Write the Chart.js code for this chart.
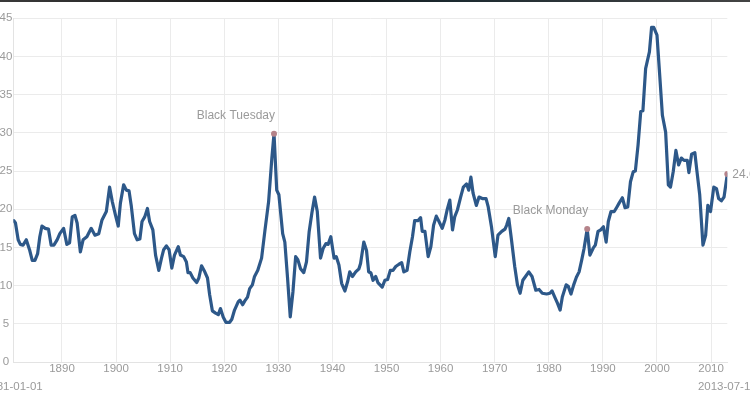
<!DOCTYPE html>
<html>
<head>
<meta charset="utf-8">
<title>Shiller P/E</title>
<script src="https://cdn.jsdelivr.net/npm/chart.js@4/dist/chart.umd.min.js"></script>
<style>
  html, body { margin: 0; padding: 0; background: #fff; overflow: hidden; }
  #wrap { position: relative; width: 750px; height: 394px; overflow: hidden; }
  #topbar { position: absolute; left: 0; top: 0; width: 750px; height: 2px;
            background: linear-gradient(90deg, #3a3a3a, #111 40%, #1c2a30 60%, #444); z-index: 2; }
  #chart { position: absolute; left: -10px; top: 0; }
</style>
</head>
<body>
<div id="wrap">
  <div id="topbar"></div>
  <canvas id="chart" width="760" height="394"></canvas>
</div>
<script>
// valeurs (ratio cours / bénéfices lissés)
const years = [
  1881.1, 1881.4, 1881.9, 1882.3, 1882.8, 1883.4, 1884.0, 1884.5, 1885.0, 1885.5,
  1885.9, 1886.3, 1886.9, 1887.5, 1888.0, 1888.5, 1889.1, 1889.6, 1890.3, 1890.9,
  1891.4, 1891.9, 1892.4, 1892.8, 1893.4, 1893.9, 1894.6, 1895.4, 1896.1, 1896.8,
  1897.4, 1898.2, 1898.8, 1899.3, 1899.9, 1900.4, 1900.8, 1901.4, 1901.9, 1902.4,
  1902.8, 1903.4, 1903.9, 1904.4, 1904.8, 1905.3, 1905.8, 1906.2, 1906.8, 1907.3,
  1907.9, 1908.4, 1908.8, 1909.3, 1909.8, 1910.3, 1910.8, 1911.5, 1911.9, 1912.5,
  1913.0, 1913.3, 1913.7, 1914.2, 1914.9, 1915.3, 1915.8, 1916.4, 1916.9, 1917.3,
  1917.8, 1918.4, 1918.9, 1919.3, 1919.8, 1920.3, 1921.0, 1921.4, 1921.9, 1922.6,
  1922.9, 1923.4, 1923.8, 1924.3, 1924.7, 1925.2, 1925.6, 1926.2, 1926.9, 1927.5,
  1928.2, 1928.8, 1929.2, 1929.7, 1930.1, 1930.8, 1931.2, 1931.7, 1932.2, 1932.7,
  1933.2, 1933.6, 1934.1, 1934.7, 1935.2, 1935.7, 1936.2, 1936.7, 1937.2, 1937.8,
  1938.3, 1938.8, 1939.2, 1939.7, 1940.3, 1940.7, 1941.2, 1941.7, 1942.3, 1942.8,
  1943.2, 1943.7, 1944.3, 1944.9, 1945.2, 1945.8, 1946.3, 1946.7, 1947.1, 1947.5,
  1948.0, 1948.4, 1949.2, 1949.7, 1950.2, 1950.7, 1951.2, 1951.7, 1952.3, 1952.8,
  1953.2, 1953.8, 1954.3, 1954.8, 1955.2, 1955.8, 1956.3, 1956.6, 1957.1, 1957.7,
  1958.2, 1958.7, 1959.2, 1959.7, 1960.3, 1960.8, 1961.2, 1961.7, 1962.2, 1962.6,
  1963.1, 1963.7, 1964.2, 1964.8, 1965.2, 1965.6, 1966.0, 1966.6, 1967.1, 1967.7,
  1968.4, 1968.8, 1969.4, 1970.1, 1970.6, 1971.3, 1971.9, 1972.2, 1972.6, 1973.1,
  1973.7, 1974.2, 1974.7, 1975.2, 1975.7, 1976.3, 1976.9, 1977.6, 1978.2, 1978.8,
  1979.6, 1980.2, 1980.6, 1981.1, 1981.6, 1982.1, 1982.5, 1983.2, 1983.6, 1984.1,
  1984.6, 1985.1, 1985.6, 1986.1, 1986.5, 1987.1, 1987.6, 1988.2, 1988.6, 1989.1,
  1989.6, 1990.1, 1990.6, 1991.0, 1991.5, 1992.1, 1992.6, 1993.0, 1993.6, 1994.1,
  1994.6, 1995.1, 1995.6, 1996.0, 1996.5, 1997.0, 1997.4, 1997.9, 1998.6, 1999.0,
  1999.4, 2000.0, 2000.5, 2001.0, 2001.6, 2002.1, 2002.5, 2003.0, 2003.5, 2004.0,
  2004.5, 2005.0, 2005.6, 2005.9, 2006.4, 2007.0, 2007.4, 2007.9, 2008.5, 2009.0,
  2009.4, 2009.9, 2010.5, 2011.0, 2011.4, 2011.9, 2012.4, 2013.0
];
const cape = [
  18.5, 18.2, 16.0, 15.4, 15.3, 16.0, 14.7, 13.3, 13.3, 14.2,
  16.4, 17.8, 17.5, 17.4, 15.3, 15.3, 16.0, 16.8, 17.5, 15.4,
  15.6, 19.0, 19.2, 18.2, 14.4, 16.0, 16.4, 17.5, 16.6, 16.8,
  18.6, 19.7, 22.9, 21.0, 19.2, 17.8, 20.8, 23.2, 22.5, 22.4,
  20.5, 16.8, 16.0, 16.1, 18.4, 19.0, 20.1, 18.4, 17.3, 14.0,
  12.0, 13.6, 14.7, 15.2, 14.7, 12.3, 14.0, 15.1, 14.0, 13.8,
  13.1, 11.7, 11.7, 11.0, 10.4, 11.0, 12.6, 11.8, 11.0, 8.8,
  6.7, 6.4, 6.2, 7.0, 5.9, 5.2, 5.2, 5.6, 6.8, 7.9,
  8.1, 7.5, 8.0, 8.5, 9.6, 10.1, 11.2, 12.0, 13.6, 17.1,
  21.0, 26.7, 29.9, 22.5, 21.9, 16.8, 15.7, 11.0, 5.9, 9.2,
  13.8, 13.4, 12.2, 11.7, 13.1, 17.1, 19.5, 21.6, 19.7, 13.6,
  14.9, 15.5, 15.4, 16.4, 13.6, 13.8, 12.7, 10.3, 9.3, 10.5,
  11.8, 11.2, 11.8, 12.2, 12.9, 15.7, 14.6, 11.8, 11.7, 10.7,
  11.2, 10.4, 9.8, 10.7, 10.8, 12.0, 12.0, 12.5, 12.8, 13.0,
  11.8, 12.0, 14.4, 16.4, 18.5, 18.5, 18.9, 17.1, 17.1, 13.8,
  15.1, 17.9, 19.1, 18.4, 17.5, 18.6, 19.9, 21.2, 17.3, 19.0,
  19.9, 21.6, 22.9, 23.3, 22.5, 24.2, 22.1, 20.5, 21.6, 21.4,
  21.4, 20.3, 17.7, 13.8, 16.6, 17.1, 17.4, 17.9, 18.8, 16.0,
  12.5, 10.1, 9.0, 10.7, 11.2, 11.8, 11.2, 9.4, 9.5, 9.0,
  8.9, 9.0, 9.3, 8.5, 7.7, 6.8, 8.5, 10.1, 9.9, 8.9,
  10.1, 11.1, 11.8, 13.4, 14.8, 17.4, 14.0, 14.9, 15.3, 17.1,
  17.3, 17.7, 15.7, 18.4, 19.7, 19.7, 20.3, 20.8, 21.5, 20.2,
  20.3, 23.6, 24.9, 25.0, 28.4, 32.8, 32.9, 38.4, 40.6, 43.8,
  43.8, 42.8, 37.6, 32.3, 30.1, 23.2, 22.9, 24.9, 27.7, 25.8,
  26.7, 26.4, 26.4, 24.8, 27.2, 27.4, 24.9, 21.9, 15.3, 16.6,
  20.5, 19.7, 22.9, 22.7, 21.4, 21.1, 21.6, 24.6
];

// points remarquables
const eventYears = [1929.2, 1987.1, 2013.0];
const eventValues = [29.9, 17.4, 24.6];
const eventLabels = ['Black Tuesday', 'Black Monday', '24.6'];

const xTicks = [1890, 1900, 1910, 1920, 1930, 1940, 1950, 1960, 1970, 1980, 1990, 2000, 2010];
const rangeLabels = ['1881-01-01', '2013-07-12'];

const GREY = '#9a9a9a';
const GRID = '#ebebeb';
const FONT = '"Liberation Sans", Arial, sans-serif';

// étiquettes des événements et dates de début / fin
const labelPlugin = {
  id: 'labels',
  afterDatasetsDraw(chart) {
    const ctx = chart.ctx;
    const x = chart.scales.x, y = chart.scales.y;
    ctx.save();
    ctx.fillStyle = GREY;
    ctx.font = '12px ' + FONT;
    ctx.textBaseline = 'middle';
    eventLabels.forEach((txt, i) => {
      const px = x.getPixelForValue(eventYears[i]);
      const py = y.getPixelForValue(eventValues[i]);
      if (i === eventLabels.length - 1) {
        ctx.textAlign = 'left';
        ctx.fillText(txt, px + 5, py + 1);
      } else {
        ctx.textAlign = 'right';
        ctx.fillText(txt, px + 1, py - 18);
      }
    });
    ctx.font = '11.5px ' + FONT;
    ctx.textAlign = 'center';
    const by = chart.chartArea.bottom + 25;
    ctx.fillText(rangeLabels[0], x.getPixelForValue(x.min), by);
    ctx.fillText(rangeLabels[1], x.getPixelForValue(x.max), by);
    ctx.restore();
  }
};

new Chart(document.getElementById('chart'), {
  type: 'line',
  data: {
    datasets: [{
      data: years.map((yr, i) => ({ x: yr, y: cape[i] })),
      borderColor: '#2d5889',
      borderWidth: 3.2,
      pointRadius: 0,
      tension: 0,
      borderJoinStyle: 'round',
      borderCapStyle: 'round',
      order: 2
    }, {
      data: eventYears.map((yr, i) => ({ x: yr, y: eventValues[i] })),
      showLine: false,
      pointRadius: 3,
      pointBackgroundColor: '#b5838a',
      pointBorderWidth: 0,
      order: 1
    }]
  },
  options: {
    responsive: false,
    animation: false,
    devicePixelRatio: 1,
    layout: { padding: { top: 18.3, right: 22.7, bottom: 0, left: 0 } },
    plugins: { legend: { display: false }, tooltip: { enabled: false } },
    scales: {
      x: {
        type: 'linear',
        min: 1881,
        max: 2013,
        afterBuildTicks: (s) => { s.ticks = xTicks.map(v => ({ value: v })); },
        afterFit: (s) => { s.height = 32; },
        grid: { color: GRID, drawTicks: false },
        border: { color: '#e3e3e3' },
        ticks: {
          color: GREY, padding: 0, maxRotation: 0, autoSkip: false,
          font: { family: FONT, size: 11.5 },
          callback: (v) => String(v)
        }
      },
      y: {
        min: 0,
        max: 45,
        afterFit: (s) => { s.width = 23.3; },
        grid: { color: GRID, drawTicks: false },
        border: { color: '#e3e3e3' },
        ticks: {
          stepSize: 5, color: GREY, padding: 1, crossAlign: 'center',
          font: { family: FONT, size: 11.5 }
        }
      }
    }
  },
  plugins: [labelPlugin]
});
</script>
</body>
</html>
